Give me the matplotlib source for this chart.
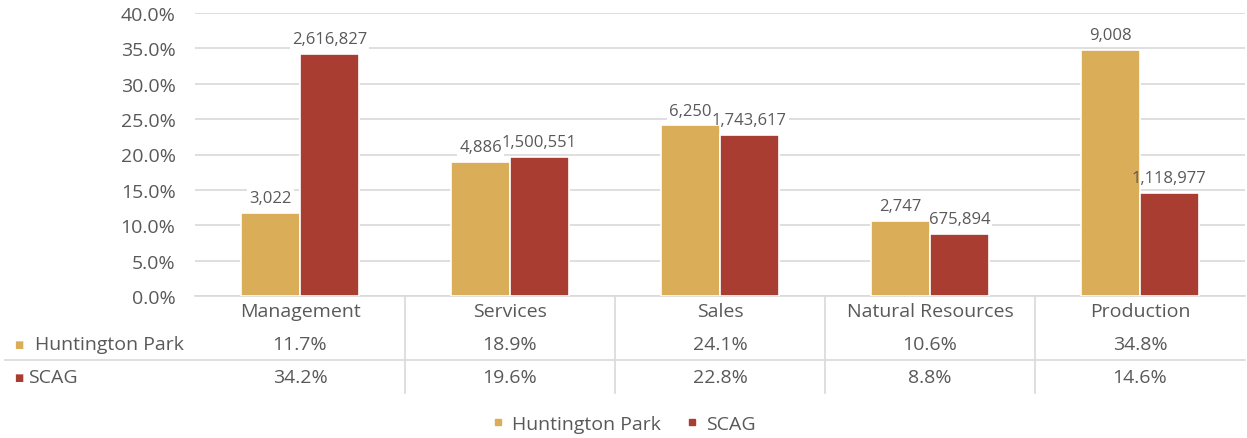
import matplotlib.pyplot as plt
import matplotlib.transforms as mtransforms
from matplotlib.ticker import PercentFormatter

categories = ['Management', 'Services', 'Sales', 'Natural Resources', 'Production']
series = ['Huntington Park', 'SCAG']
hp_pct = [11.7, 18.9, 24.1, 10.6, 34.8]
scag_pct = [34.2, 19.6, 22.8, 8.8, 14.6]
hp_count = ['3,022', '4,886', '6,250', '2,747', '9,008']
scag_count = ['2,616,827', '1,500,551', '1,743,617', '675,894', '1,118,977']

gold = '#DAAE58'
red = '#A93D31'
grey_txt = '#595959'
grid_col = '#D9D9D9'

plt.rcParams['font.family'] = ['Open Sans', 'DejaVu Sans']
FS = 14
FS_LAB = 12

W, H = 1247, 439
fig = plt.figure(figsize=(W / 100, H / 100), dpi=100)
ax = fig.add_axes([195 / W, 1 - 297 / H, 1050 / W, 283 / H])

x = list(range(len(categories)))
bw = 0.28
b1 = ax.bar([i - bw / 2 for i in x], hp_pct, bw, color=gold, edgecolor='white', linewidth=1.2, zorder=3)
b2 = ax.bar([i + bw / 2 for i in x], scag_pct, bw, color=red, edgecolor='white', linewidth=1.2, zorder=3)

# white boxes knock out gridlines behind labels, text itself sits on top of bars
box = dict(facecolor='white', edgecolor='none', pad=1.5)
for bars, labs in ((b1, hp_count), (b2, scag_count)):
    ax.bar_label(bars, labels=labs, padding=5, fontsize=FS_LAB, color='none', bbox=box, zorder=2)
    ax.bar_label(bars, labels=labs, padding=5, fontsize=FS_LAB, color=grey_txt, zorder=4)

ax.set_xlim(-0.5, len(categories) - 0.5)
ax.set_ylim(0, 40)
ax.set_yticks([0, 5, 10, 15, 20, 25, 30, 35, 40])
ax.yaxis.set_major_formatter(PercentFormatter(decimals=1))
ax.grid(axis='y', color=grid_col, linewidth=1.2, zorder=0)
ax.set_axisbelow(True)
for s in ['top', 'right', 'left']:
    ax.spines[s].set_visible(False)
ax.spines['bottom'].set_color(grid_col)
ax.spines['bottom'].set_linewidth(1.2)
ax.tick_params(axis='y', length=0, pad=14, labelsize=FS, labelcolor=grey_txt)
ax.tick_params(axis='x', length=0, labelbottom=False)

# data table under the chart
tr = mtransforms.blended_transform_factory(ax.transData, fig.transFigure)
row_y = [1 - 312 / H, 1 - 345 / H, 1 - 378 / H]
for i, cat in enumerate(categories):
    ax.text(i, row_y[0], cat, transform=tr, ha='center', va='center', fontsize=FS, color=grey_txt)
    ax.text(i, row_y[1], '%.1f%%' % hp_pct[i], transform=tr, ha='center', va='center', fontsize=FS, color=grey_txt)
    ax.text(i, row_y[2], '%.1f%%' % scag_pct[i], transform=tr, ha='center', va='center', fontsize=FS, color=grey_txt)
for i in range(1, len(categories)):
    ax.plot([i - 0.5, i - 0.5], [1 - 297 / H, 1 - 394 / H], transform=tr, color=grid_col, lw=1.2, clip_on=False)

fig.add_artist(plt.Line2D([5 / W, 1245 / W], [1 - 361 / H, 1 - 361 / H], color=grid_col, lw=1.2))

fig.text(14 / W, row_y[1], '\u25a0', color=gold, fontsize=7, va='center', ha='left', family='DejaVu Sans')
fig.text(35 / W, row_y[1], series[0], color=grey_txt, fontsize=FS, va='center', ha='left')
fig.text(14 / W, row_y[2], '\u25a0', color=red, fontsize=7, va='center', ha='left', family='DejaVu Sans')
fig.text(28 / W, row_y[2], series[1], color=grey_txt, fontsize=FS, va='center', ha='left')

handles = [plt.Line2D([], [], marker='s', ls='none', color=c, markersize=5) for c in (gold, red)]
fig.legend(handles, series, loc='center', bbox_to_anchor=(622 / W, 1 - 425 / H), ncol=2, frameon=False,
           fontsize=FS, labelcolor=grey_txt, handletextpad=0.2, columnspacing=1.1, handlelength=1.0)

fig.savefig('out.png', dpi=100)
